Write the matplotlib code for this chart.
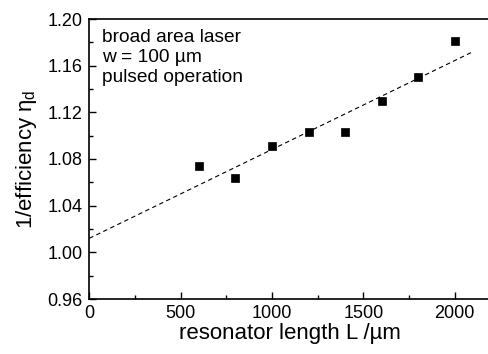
import matplotlib
matplotlib.use("Agg")
import matplotlib.pyplot as plt
from matplotlib.ticker import MultipleLocator

plt.rcParams['font.family'] = ['Liberation Sans', 'DejaVu Sans']
plt.rcParams['mathtext.fontset'] = 'custom'
plt.rcParams['mathtext.rm'] = 'Liberation Sans'
plt.rcParams['mathtext.it'] = 'Liberation Sans'

# measured points
length = [600, 800, 1000, 1200, 1400, 1600, 1800, 2000]
inv_eff = [1.074, 1.064, 1.091, 1.103, 1.103, 1.130, 1.150, 1.181]

# linear fit line (dashed)
fit_x = [0, 2100]
fit_y = [1.012, 1.172]

fig = plt.figure(figsize=(4.89, 3.54), dpi=100)
ax = fig.add_axes([89.3 / 489, 55 / 354, 402 / 489, 280 / 354])

ax.plot(fit_x, fit_y, color='black', lw=0.8, dashes=(4, 3))
ax.plot(length, inv_eff, 's', color='black', ms=6, mew=0.5)

ax.set_xlim(0, 2200)
ax.set_ylim(0.96, 1.20)
ax.xaxis.set_major_locator(MultipleLocator(500))
ax.xaxis.set_minor_locator(MultipleLocator(250))
ax.yaxis.set_major_locator(MultipleLocator(0.04))
ax.yaxis.set_minor_locator(MultipleLocator(0.02))
ax.set_xticks([0, 500, 1000, 1500, 2000])
ax.set_yticks([0.96, 1.00, 1.04, 1.08, 1.12, 1.16, 1.20])
ax.set_yticklabels(['0.96', '1.00', '1.04', '1.08', '1.12', '1.16', '1.20'])

ax.tick_params(which='both', direction='in', top=False, right=False, labelsize=13)
ax.tick_params(which='major', length=5, width=1)
ax.tick_params(which='minor', length=3, width=1)
ax.tick_params(axis='y', pad=5)
ax.tick_params(axis='x', pad=4)
for s in ax.spines.values():
    s.set_linewidth(1.2)
ax.spines['right'].set_visible(False)

ax.set_xlabel('resonator length L /µm', fontsize=16, labelpad=1)
ax.set_ylabel(r'1/efficiency $\eta_\mathrm{d}$', fontsize=16, labelpad=6)

ax.text(0.032, 0.965, 'broad area laser\nw = 100 µm\npulsed operation',
        transform=ax.transAxes, ha='left', va='top', fontsize=13.8, linespacing=1.25)

fig.savefig('out.png', dpi=100)
